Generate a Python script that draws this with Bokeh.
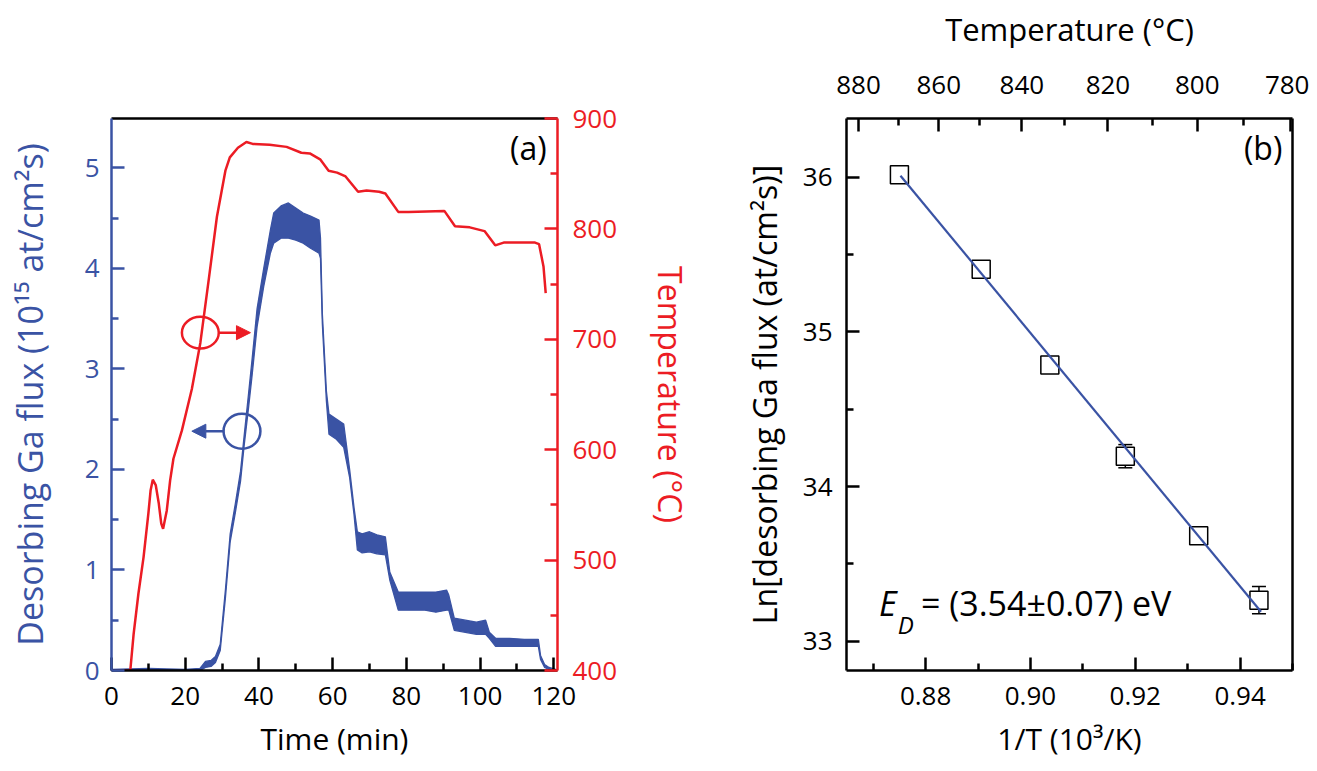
from bokeh.plotting import figure
from bokeh.layouts import row
from bokeh.models import (Range1d, LinearAxis, FixedTicker, NumeralTickFormatter,
                          CustomJSTickFormatter, Label, Arrow, NormalHead, Whisker,
                          TeeHead, ColumnDataSource)
from bokeh.embed import file_html
from bokeh.resources import INLINE

FONT = "Open Sans"
BLUE = "#3a53a4"
RED = "#ec1c24"

# ---------------- panel (a) data ----------------
flux_time = [0, 10, 20, 24, 25.5, 27, 28.2, 29.5, 30.9, 32.2, 33.6, 35.0, 36.0, 37.2,
             38.1, 39.5, 41.3, 43.1, 44.0, 46, 48, 50, 52, 54, 56.3, 56.7, 57.2, 58.3,
             59.0, 61, 63.0, 64.6, 65.8, 66.7, 68, 70, 72, 74.3, 75.5, 77.8, 80, 85,
             88, 90.9, 91.5, 93.0, 96, 99, 101.5, 102.5, 104.2, 108, 112, 115.8,
             116.4, 117.5, 118.7, 120.5]
flux_lo = [0, 0.005, 0, 0, 0.03, 0.04, 0.08, 0.2, 0.72, 1.28, 1.57, 1.88, 2.24, 2.62,
           2.92, 3.42, 3.82, 4.15, 4.25, 4.3, 4.3, 4.28, 4.25, 4.2, 4.15, 4.1, 3.45, 2.68,
           2.35, 2.3, 2.22, 1.92, 1.55, 1.2, 1.17, 1.18, 1.16, 1.15, 0.9, 0.6, 0.6, 0.6,
           0.58, 0.6, 0.6, 0.4, 0.38, 0.36, 0.36, 0.32, 0.24, 0.24, 0.24, 0.24,
           0.11, 0.03, 0.01, 0]
flux_hi = [0.01, 0.02, 0.01, 0.02, 0.09, 0.1, 0.14, 0.26, 0.8, 1.36, 1.66, 1.98, 2.34, 2.76,
           3.08, 3.60, 4.0, 4.38, 4.55, 4.62, 4.65, 4.6, 4.55, 4.52, 4.48, 4.3, 3.55, 2.78,
           2.55, 2.5, 2.45, 2.0, 1.62, 1.38, 1.36, 1.38, 1.35, 1.33, 0.98, 0.78, 0.78, 0.78,
           0.78, 0.8, 0.75, 0.52, 0.5, 0.48, 0.5, 0.38, 0.32, 0.32, 0.31, 0.31,
           0.15, 0.06, 0.03, 0.01]

temp_time = [0, 5.1, 6.0, 7.3, 8.7, 10.0, 10.6, 11.2, 12.0, 12.8, 13.5, 14.0, 15.0, 15.9,
             16.8, 19.1, 21.8, 24.1, 26.3, 28.6, 30.9, 32.1, 34.3, 36.6, 38.3, 42.9,
             47.5, 51.5, 53.8, 56.6, 58.9, 61.2, 63.5, 66.9, 69.2, 72.6, 74.3, 77.8,
             80.6, 90.3, 93.2, 97.2, 101.2, 104.1, 106.4, 114.9, 116.0, 117.2, 117.8]
temp_c = [400, 400, 433, 469.5, 502.7, 542, 563, 572.8, 568, 552, 533, 528.4, 545, 572,
          591.8, 617.5, 655, 696.7, 752, 811, 852.7, 864.8, 873.5, 878.7, 877, 876.3,
          874.3, 869, 868.4, 863, 852.7, 851, 847.5, 833.7, 834.7, 833.7, 832, 815.4,
          815.4, 816.3, 802.4, 801.4, 798, 785.1, 787.6, 787.6, 786.2, 766, 741.8]

time_ticks = [0, 20, 40, 60, 80, 100, 120]
time_minor = [10, 30, 50, 70, 90, 110]
flux_ticks = [0, 1, 2, 3, 4, 5]
flux_minor = [0.5, 1.5, 2.5, 3.5, 4.5]
temp_ticks = [400, 500, 600, 700, 800, 900]
temp_minor = [450, 550, 650, 750, 850]

# annotation marks (ellipse centre, size, arrow ends)
red_ring = dict(x=24.1, y=3.36, w=10.0, h=0.315)
red_arrow = dict(x0=29.05, x1=37.7, y=3.36)
blue_ring = dict(x=35.4, y=2.38, w=10.0, h=0.348)
blue_arrow = dict(x0=30.6, x1=21.8, y=2.38)

# ---------------- panel (b) data ----------------
inv_T = [0.8750, 0.8906, 0.9037, 0.9181, 0.9321, 0.9436]
ln_flux = [36.016, 35.405, 34.785, 34.196, 33.681, 33.265]
ln_err = [0.04, 0.04, 0.04, 0.075, 0.055, 0.088]
fit_x = [0.8752, 0.9440]
fit_y = [36.01, 33.19]

invT_ticks = [0.88, 0.90, 0.92, 0.94]
invT_minor = [0.87, 0.89, 0.91, 0.93, 0.95]
ln_ticks = [33, 34, 35, 36]
ln_minor = [33.5, 34.5, 35.5]
top_temp_labels = [880, 860, 840, 820, 800, 780]
top_temp_minor = [870, 850, 830, 810, 790]


def style_axis(ax, color, ticks, minor, label=None, label_size="32px"):
    ax.ticker = FixedTicker(ticks=ticks, minor_ticks=minor)
    ax.axis_line_color = color
    ax.axis_line_width = 2.5
    ax.major_tick_line_color = color
    ax.major_tick_line_width = 2.5
    ax.major_tick_in = 13
    ax.major_tick_out = 0
    ax.minor_tick_line_color = color
    ax.minor_tick_line_width = 2.5
    ax.minor_tick_in = 7
    ax.minor_tick_out = 0
    ax.major_label_text_color = color
    ax.major_label_text_font = FONT
    ax.major_label_text_font_size = "26px"
    ax.axis_label_text_color = color
    ax.axis_label_text_font = FONT
    ax.axis_label_text_font_size = label_size
    ax.axis_label_text_font_style = "normal"
    if label is not None:
        ax.axis_label = label


def bare_axis():
    ax = LinearAxis(ticker=FixedTicker(ticks=[], minor_ticks=[]))
    ax.axis_line_color = "black"
    ax.axis_line_width = 2.5
    ax.major_tick_in = 0
    ax.major_tick_out = 0
    ax.minor_tick_in = 0
    ax.minor_tick_out = 0
    ax.major_label_text_font_size = "0px"
    return ax


# ---------------- figure (a) ----------------
p1 = figure(frame_width=446, frame_height=552, min_border_left=111, min_border_right=140,
            min_border_top=118, min_border_bottom=95,
            x_range=Range1d(0, 121), y_range=Range1d(0, 5.49),
            output_backend="svg", toolbar_location=None)
p1.extra_y_ranges = {"temp": Range1d(400, 900)}
p1.outline_line_color = None
p1.grid.visible = False

style_axis(p1.xaxis[0], "black", time_ticks, time_minor, "Time (min)", "30px")
style_axis(p1.yaxis[0], BLUE, flux_ticks, flux_minor,
           "Desorbing Ga flux (10\u00b9\u2075 at/cm\u00b2s)", "34px")
p1.xaxis[0].major_label_standoff = 16
p1.xaxis[0].axis_label_standoff = 10
p1.yaxis[0].major_label_standoff = 12
p1.yaxis[0].axis_label_standoff = 29

rax = LinearAxis(y_range_name="temp")
style_axis(rax, RED, temp_ticks, temp_minor, "Temperature (\u00b0C)", "32px")
rax.major_label_standoff = 15
rax.axis_label_standoff = 29
p1.add_layout(rax, "right")
p1.add_layout(bare_axis(), "above")

p1.varea(x=flux_time, y1=flux_lo, y2=flux_hi, fill_color=BLUE)
p1.line(flux_time, flux_lo, line_color=BLUE, line_width=1.3)
p1.line(flux_time, flux_hi, line_color=BLUE, line_width=1.3)
p1.line(temp_time, temp_c, line_color=RED, line_width=2.5, y_range_name="temp")

p1.ellipse(x=[red_ring["x"]], y=[red_ring["y"]], width=red_ring["w"], height=red_ring["h"],
           fill_color=None, line_color=RED, line_width=2.5)
p1.add_layout(Arrow(end=NormalHead(size=14, fill_color=RED, line_color=RED),
                    x_start=red_arrow["x0"], x_end=red_arrow["x1"],
                    y_start=red_arrow["y"], y_end=red_arrow["y"],
                    line_color=RED, line_width=2.5))
p1.ellipse(x=[blue_ring["x"]], y=[blue_ring["y"]], width=blue_ring["w"], height=blue_ring["h"],
           fill_color=None, line_color=BLUE, line_width=2.5)
p1.add_layout(Arrow(end=NormalHead(size=14, fill_color=BLUE, line_color=BLUE),
                    x_start=blue_arrow["x0"], x_end=blue_arrow["x1"],
                    y_start=blue_arrow["y"], y_end=blue_arrow["y"],
                    line_color=BLUE, line_width=2.5))
p1.add_layout(Label(x=113.1, y=5.2, text="(a)", text_font=FONT, text_font_size="32px",
                    text_align="center", text_baseline="middle", text_color="black"))

# ---------------- figure (b) ----------------
p2 = figure(frame_width=446, frame_height=552, min_border_left=149, min_border_right=17,
            min_border_top=118, min_border_bottom=95,
            x_range=Range1d(0.8649, 0.9500), y_range=Range1d(32.81, 36.38),
            output_backend="svg", toolbar_location=None)
p2.outline_line_color = None
p2.grid.visible = False

style_axis(p2.xaxis[0], "black", invT_ticks, invT_minor, "1/T (10\u00b3/K)", "30px")
p2.xaxis[0].formatter = NumeralTickFormatter(format="0.00")
p2.xaxis[0].major_label_standoff = 16
p2.xaxis[0].axis_label_standoff = 10
style_axis(p2.yaxis[0], "black", ln_ticks, ln_minor,
           "Ln[desorbing Ga flux (at/cm\u00b2s)]", "32px")
p2.yaxis[0].major_label_standoff = 14
p2.yaxis[0].axis_label_standoff = 14

tax = LinearAxis()
style_axis(tax, "black", [1000.0 / (t + 273.15) for t in top_temp_labels],
           [1000.0 / (t + 273.15) for t in top_temp_minor], "Temperature (\u00b0C)", "31px")
tax.formatter = CustomJSTickFormatter(code="return (1000/tick - 273.15).toFixed(0);")
tax.major_label_standoff = 25
tax.axis_label_standoff = 23
p2.add_layout(tax, "above")
p2.add_layout(bare_axis(), "right")

src = ColumnDataSource(dict(x=inv_T, y=ln_flux,
                            upper=[v + e for v, e in zip(ln_flux, ln_err)],
                            lower=[v - e for v, e in zip(ln_flux, ln_err)]))
p2.add_layout(Whisker(source=src, base="x", upper="upper", lower="lower",
                      line_color="black", line_width=1.5,
                      upper_head=TeeHead(size=14, line_color="black", line_width=1.5),
                      lower_head=TeeHead(size=14, line_color="black", line_width=1.5)))
p2.scatter("x", "y", source=src, marker="square", size=18, fill_color="white",
           line_color="black", line_width=1.5)
p2.line(fit_x, fit_y, line_color=BLUE, line_width=2.2)

p2.add_layout(Label(x=0.9444, y=36.19, text="(b)", text_font=FONT, text_font_size="32px",
                    text_align="center", text_baseline="middle", text_color="black"))
p2.add_layout(Label(x=0.8711, y=33.248, text="E", text_font=FONT, text_font_size="34px",
                    text_font_style="italic", text_baseline="alphabetic",
                    text_color="black"))
p2.add_layout(Label(x=0.8747, y=33.11, text="D", text_font=FONT, text_font_size="24px",
                    text_font_style="italic", text_baseline="alphabetic",
                    text_color="black"))
p2.add_layout(Label(x=0.8791, y=33.248, text="= (3.54\u00b10.07) eV", text_font=FONT,
                    text_font_size="34px", text_baseline="alphabetic", text_color="black"))

layout = row(p1, p2)
open("out.html", "w").write(file_html(layout, INLINE))
